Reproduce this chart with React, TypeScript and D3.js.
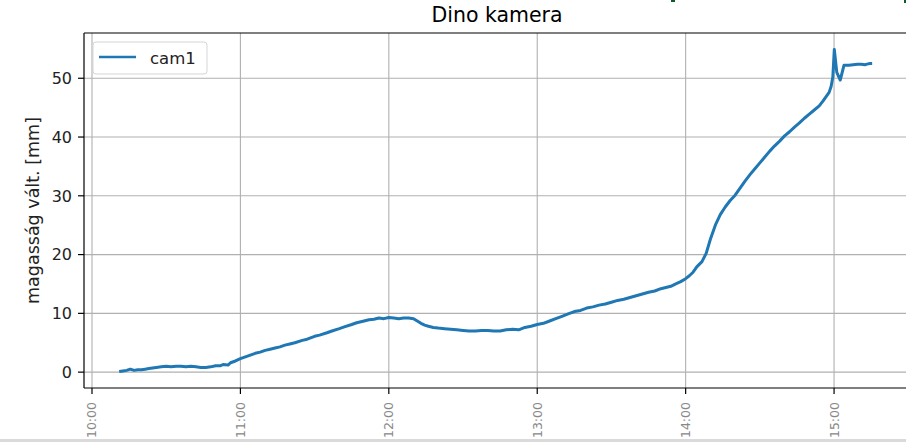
import React from "react";
import * as d3 from "d3";

// minutes after 10:00
const minutes = [
  11, 12.5, 14, 15.5, 17, 18.5, 20, 21.5, 23, 24.5, 26, 28, 30, 32, 34, 36, 38, 40,
  42, 44, 46, 48, 50, 52, 53, 55, 56, 58, 60, 62, 64, 66, 68, 70, 72, 74, 76, 78, 80,
  82, 85, 87, 90, 92, 95, 97, 100, 102, 105, 107, 110, 112, 114, 116, 118, 120, 122,
  124, 126, 128, 130, 131.5, 133, 134.5, 136, 138, 140, 142.5, 145, 147.5, 150, 152.5,
  155, 157.5, 160, 162.5, 165, 167.5, 170, 172.5, 175, 177.5, 180, 182.5, 185, 187.5,
  190, 192.5, 195, 197.5, 200, 202.5, 205, 207.5, 210, 212.5, 215, 217.5, 220, 222.5,
  225, 227.5, 230, 232, 234, 236, 238, 240, 241.5, 243, 244.5, 246.6, 248.3, 250,
  252, 254, 256, 258, 260, 262, 264, 266, 268, 270, 272, 274, 276, 278, 280, 282,
  284, 286, 288, 290, 292, 294, 295.5, 297, 298, 298.8, 299.5, 300.1, 301.1, 302.5,
  304, 306, 307.7, 309.5, 311, 312.5, 313.3, 314.5, 315.4,
];
const cam1 = [
  0.1, 0.2, 0.3, 0.5, 0.3, 0.4, 0.4, 0.5, 0.6, 0.7, 0.8, 0.9, 1.0, 0.9, 1.0, 1.0, 0.9, 1.0,
  0.9, 0.8, 0.8, 0.9, 1.1, 1.1, 1.3, 1.2, 1.6, 1.9, 2.3, 2.6, 2.9, 3.2, 3.4, 3.7, 3.9, 4.1,
  4.3, 4.6, 4.8, 5.0, 5.4, 5.6, 6.1, 6.3, 6.7, 7.0, 7.4, 7.7, 8.1, 8.4, 8.7, 8.9, 9.0, 9.2,
  9.1, 9.3, 9.2, 9.1, 9.2, 9.2, 9.1, 8.7, 8.3, 8.0, 7.8, 7.6, 7.5, 7.4, 7.3, 7.2, 7.1,
  7.0, 7.0, 7.1, 7.1, 7.0, 7.0, 7.2, 7.3, 7.2, 7.6, 7.8, 8.1, 8.3, 8.7, 9.1, 9.5, 9.9,
  10.3, 10.5, 10.9, 11.1, 11.4, 11.6, 11.9, 12.2, 12.4, 12.7, 13.0, 13.3, 13.6, 13.8,
  14.2, 14.4, 14.6, 15.0, 15.4, 15.9, 16.4, 17.0, 17.9, 18.8, 20.2, 22.6, 25.0,
  26.8, 28.1, 29.2, 30.1, 31.3, 32.5, 33.6, 34.6, 35.6, 36.6, 37.6, 38.5, 39.3, 40.2,
  40.9, 41.7, 42.4, 43.2, 43.9, 44.6, 45.3, 46.1, 47.0, 47.6, 48.6, 50.2, 54.9, 51.0,
  49.7, 52.2, 52.2, 52.3, 52.4, 52.4, 52.3, 52.4, 52.5, 52.5, 52.3, 51.8,
];
const yTicks = [0, 10, 20, 30, 40, 50];
const xTickHours = [10, 11, 12, 13, 14, 15];
const title = "Dino kamera";
const yLabel = "magasság vált. [mm]";
const seriesName = "cam1";

const base = new Date(2020, 0, 1, 10, 0, 0);
const toDate = (m: number) => new Date(base.getTime() + m * 60000);

export default function App() {
  React.useEffect(() => {
    document.body.style.margin = "0";
  }, []);
  const W = 906, H = 442;
  const L = 84, R = 910, T = 33, B = 388;
  const x = d3.scaleTime().domain([toDate(-3.23), toDate(330.7)]).range([L, R]);
  const y = d3.scaleLinear().domain([-2.7, 57.7]).range([B, T]);
  const data = minutes.map((m, i) => ({ t: toDate(m), v: cam1[i] }));
  const line = d3.line<{ t: Date; v: number }>().x((d) => x(d.t)).y((d) => y(d.v));
  const xTicks = xTickHours.map((h) => new Date(2020, 0, 1, h, 0, 0));
  const fmt = d3.timeFormat("%H:%M");
  const font = "DejaVu Sans, sans-serif";
  const blue = "#1f77b4";
  return (
    <svg width={W} height={H} style={{ display: "block", background: "#fff" }} fontFamily={font}>
      <rect x={0} y={0} width={W} height={H} fill="#fff" />
      <rect x={671} y={0} width={4} height={2} fill="#0d5a2c" />
      <rect x={904} y={0} width={2} height={3} fill="#0d5a2c" />
      <text x={(L + R) / 2} y={22} textAnchor="middle" fontSize={20.5} fill="#000">{title}</text>
      {/* grid */}
      <g stroke="#b0b0b0" strokeWidth={1.1}>
        {xTicks.map((t, i) => (
          <line key={"gx" + i} x1={x(t)} x2={x(t)} y1={T} y2={B} />
        ))}
        {yTicks.map((v, i) => (
          <line key={"gy" + i} x1={L} x2={R} y1={y(v)} y2={y(v)} />
        ))}
      </g>
      <clipPath id="clip">
        <rect x={L} y={T} width={R - L} height={B - T} />
      </clipPath>
      <path d={line(data) || ""} fill="none" stroke={blue} strokeWidth={3} strokeLinejoin="round" clipPath="url(#clip)" />
      {/* spines */}
      <g stroke="#000" strokeWidth={1.2} fill="none">
        <line x1={L} x2={L} y1={T} y2={B} />
        <line x1={L} x2={R} y1={T} y2={T} />
        <line x1={L} x2={R} y1={B} y2={B} />
        <line x1={R} x2={R} y1={T} y2={B} />
      </g>
      {/* y ticks */}
      {yTicks.map((v, i) => (
        <g key={"yt" + i}>
          <line x1={L - 6} x2={L} y1={y(v)} y2={y(v)} stroke="#000" strokeWidth={1.2} />
          <text x={L - 12} y={y(v)} dy="0.36em" textAnchor="end" fontSize={16} fill="#222">{v}</text>
        </g>
      ))}
      {/* x ticks */}
      {xTicks.map((t, i) => (
        <g key={"xt" + i}>
          <line x1={x(t)} x2={x(t)} y1={B} y2={B + 6} stroke="#000" strokeWidth={1.2} />
          <text transform={`translate(${x(t) + 4.5},${402}) rotate(-90)`} textAnchor="end" fontSize={12.5} fill="#888">{fmt(t)}</text>
        </g>
      ))}
      <text transform={`translate(39,${(T + B) / 2}) rotate(-90)`} textAnchor="middle" fontSize={17.5} fill="#222">{yLabel}</text>
      {/* legend */}
      <rect x={93} y={42} width={114} height={32} rx={3} fill="#fff" fillOpacity={0.8} stroke="#d5d5d5" strokeWidth={1} />
      <line x1={99} x2={136} y1={57} y2={57} stroke={blue} strokeWidth={2.6} />
      <text x={150} y={63.5} fontSize={16.5} fill="#222">{seriesName}</text>
      <rect x={0} y={439} width={W} height={3} fill="#dadada" />
    </svg>
  );
}
